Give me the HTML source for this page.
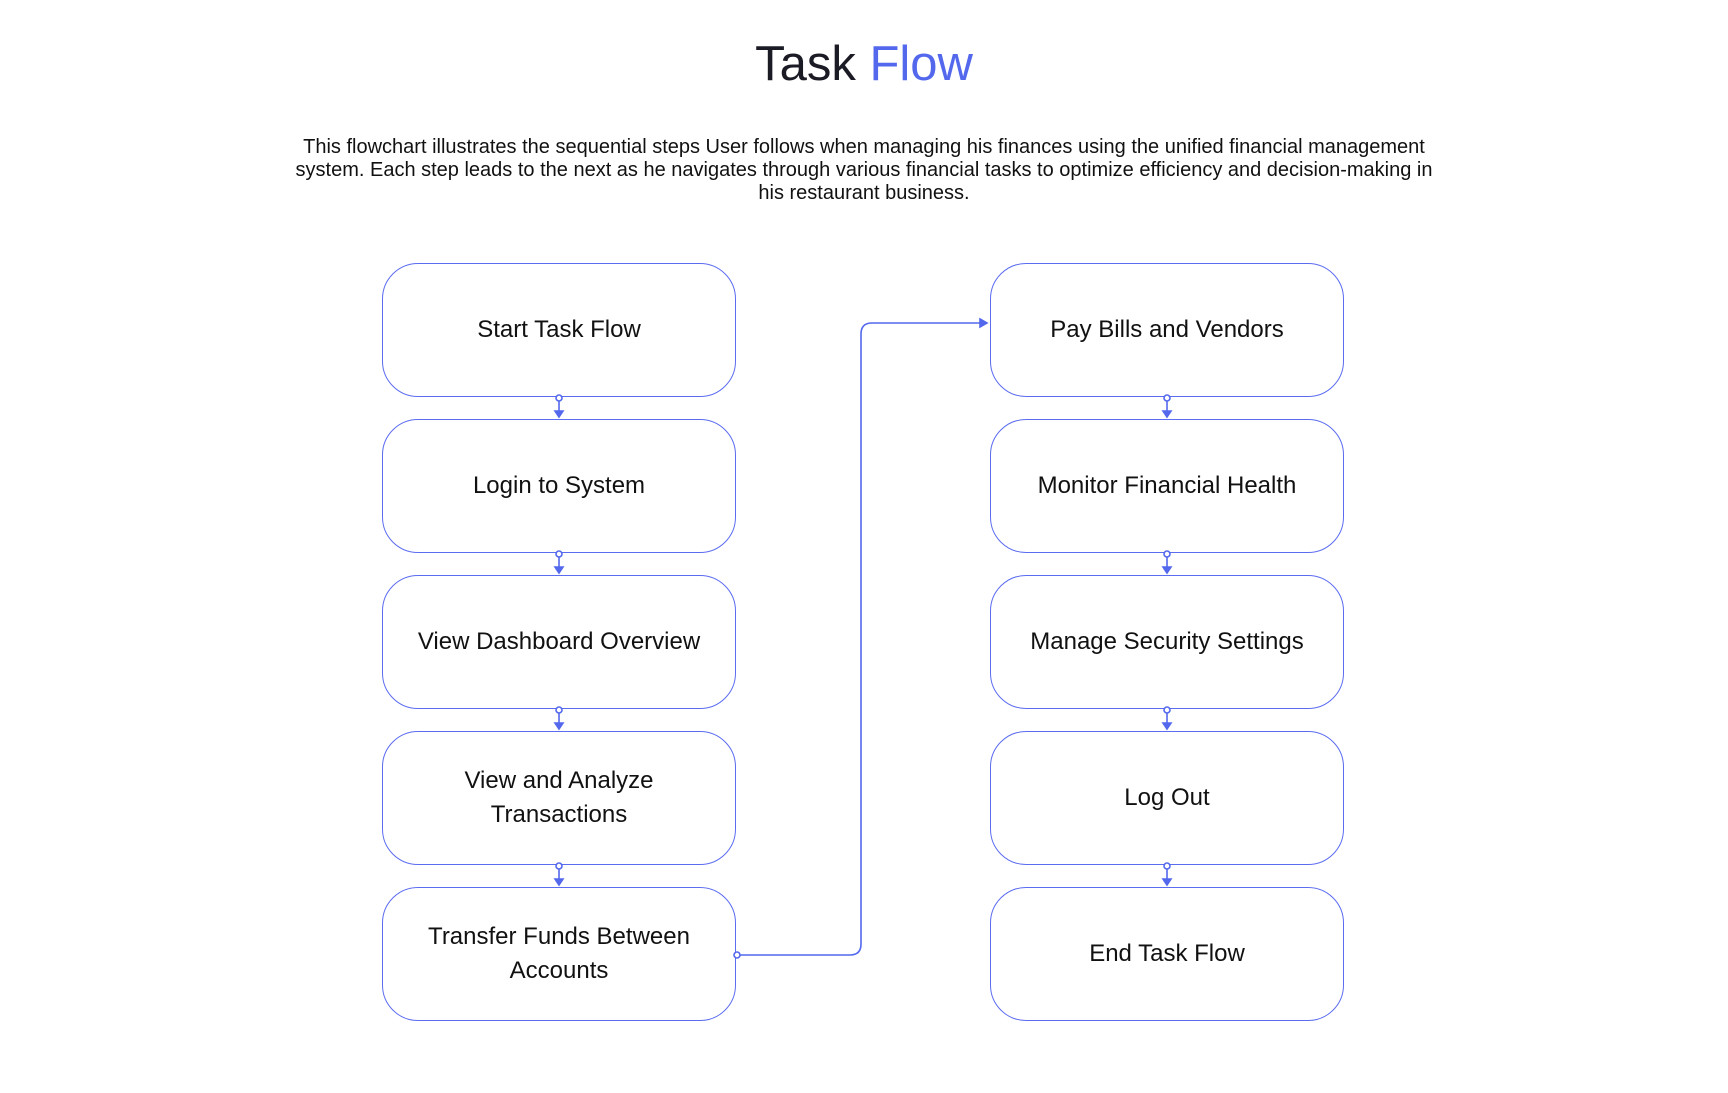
<!DOCTYPE html>
<html><head><meta charset="utf-8"><style>
body{margin:0;width:1728px;height:1093px;background:#fff;position:relative;overflow:hidden;font-family:"Liberation Sans",sans-serif}
.t{position:absolute;left:0;width:1728px;text-align:center;top:32px;font-size:49px;color:#1b1b26;line-height:64px}
.t span{color:#5368ec}
.d{position:absolute;left:284px;width:1160px;top:136px;text-align:center;font-size:20px;line-height:23px;color:#111}
.b{position:absolute;width:354px;height:134px;border:1.3px solid #5b6cf0;border-radius:36px;display:flex;align-items:center;justify-content:center;text-align:center;font-size:24px;line-height:34px;color:#111;box-sizing:border-box;padding:0 14px}
</style></head><body>
<div class="t">Task <span>Flow</span></div>
<div class="d">This flowchart illustrates the sequential steps User follows when managing his finances using the unified financial management system. Each step leads to the next as he navigates through various financial tasks to optimize efficiency and decision-making in his restaurant business.</div>

<div class="b" style="left:382px;top:263px">Start Task Flow</div>
<div class="b" style="left:382px;top:419px">Login to System</div>
<div class="b" style="left:382px;top:575px">View Dashboard Overview</div>
<div class="b" style="left:382px;top:731px">View and Analyze<br>Transactions</div>
<div class="b" style="left:382px;top:887px">Transfer Funds Between<br>Accounts</div>
<div class="b" style="left:990px;top:263px">Pay Bills and Vendors</div>
<div class="b" style="left:990px;top:419px">Monitor Financial Health</div>
<div class="b" style="left:990px;top:575px">Manage Security Settings</div>
<div class="b" style="left:990px;top:731px">Log Out</div>
<div class="b" style="left:990px;top:887px">End Task Flow</div>

<svg width="1728" height="1093" style="position:absolute;left:0;top:0" fill="none" stroke="#5368ec" stroke-width="1.6">
<g id="c">
<circle cx="559" cy="398" r="3" fill="#fff"/><line x1="559" y1="401" x2="559" y2="412"/><path d="M555 411 L559 417 L563 411Z" fill="#5368ec"/>
</g>
<use href="#c" y="156"/><use href="#c" y="312"/><use href="#c" y="468"/>
<use href="#c" x="608"/><use href="#c" x="608" y="156"/><use href="#c" x="608" y="312"/><use href="#c" x="608" y="468"/>
<circle cx="737" cy="955" r="3" fill="#fff"/>
<path d="M740 955 H850 Q861 955 861 944 V334 Q861 323 872 323 H982"/>
<path d="M980 319 L987 323 L980 327Z" fill="#5368ec"/>
</svg>
</body></html>
